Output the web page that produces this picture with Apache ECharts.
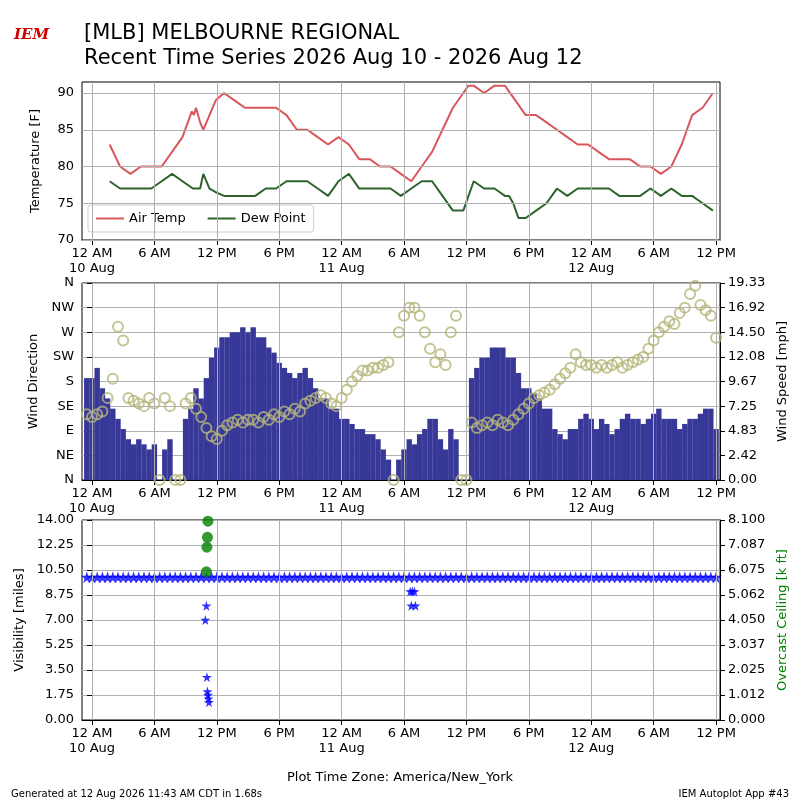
<!DOCTYPE html>
<html><head><meta charset="utf-8">
<script src="https://cdn.jsdelivr.net/npm/echarts@6/dist/echarts.min.js"></script>
<style>html,body{margin:0;padding:0;background:#fff}#c{width:800px;height:800px}</style>
</head><body><div id="c"></div>
<script>
// Temperature (hours since 10 Aug 00:00)
const airT = [1.7,2.7,3.7,4.7,5.7,6.7,7.7,8.7,9.6,9.8,10.0,10.4,10.7,11.3,11.9,12.7,13.7,14.7,15.7,16.7,17.7,18.7,19.7,20.7,21.7,22.7,23.7,24.7,25.7,26.7,27.7,28.7,29.7,30.7,31.7,32.7,33.7,34.7,35.7,36.2,36.7,37.7,38.7,39.7,40.7,41.7,42.7,43.7,44.7,45.7,46.7,47.7,48.7,49.7,50.7,51.7,52.7,53.7,54.7,55.7,56.7,57.7,58.7,59.7];
const airV = [83,80,79,80,80,80,82,84,87.5,87,88,86,85,87,89,90,89,88,88,88,88,87,85,85,84,83,84,83,81,81,80,80,79,78,80,82,85,88,90,91,91,90,91,91,89,87,87,86,85,84,83,83,82,81,81,81,80,80,79,80,83,87,88,90];
const dewT = [1.7,2.7,3.7,4.7,5.7,6.7,7.7,8.7,9.7,10.4,10.7,11.3,11.9,12.7,13.7,14.7,15.7,16.7,17.7,18.7,19.7,20.7,21.7,22.7,23.7,24.7,25.7,26.7,27.7,28.7,29.7,30.7,31.7,32.7,33.7,34.7,35.7,36.7,37.7,38.7,39.7,40.1,40.5,41.0,41.7,42.7,43.7,44.7,45.7,46.7,47.7,48.7,49.7,50.7,51.7,52.7,53.7,54.7,55.7,56.7,57.7,58.7,59.7];
const dewV = [78,77,77,77,77,78,79,78,77,77,79,77,76.5,76,76,76,76,77,77,78,78,78,77,76,78,79,77,77,77,77,76,77,78,78,76,74,74,78,77,77,76,76,75,73,73,74,75,77,76,77,77,77,77,76,76,76,77,76,77,76,76,75,74];
// Wind, half-hourly from -0.5 h
const windT = [-0.5,0,0.5,1,1.5,2,2.5,3,3.5,4,4.5,5,5.5,6,6.5,7,7.5,8,8.5,9,9.5,10,10.5,11,11.5,12,12.5,13,13.5,14,14.5,15,15.5,16,16.5,17,17.5,18,18.5,19,19.5,20,20.5,21,21.5,22,22.5,23,23.5,24,24.5,25,25.5,26,26.5,27,27.5,28,28.5,29,29.5,30,30.5,31,31.5,32,32.5,33,33.5,34,34.5,35,35.5,36,36.5,37,37.5,38,38.5,39,39.5,40,40.5,41,41.5,42,42.5,43,43.5,44,44.5,45,45.5,46,46.5,47,47.5,48,48.5,49,49.5,50,50.5,51,51.5,52,52.5,53,53.5,54,54.5,55,55.5,56,56.5,57,57.5,58,58.5,59,59.5,60];
const windSpd = [10,10,11,9,8,7,6,5,4,3.5,4,3.5,3,3.5,0,3,4,0,0,6,7,9,8,10,12,13,14,14,14.5,14.5,15,14.5,15,14,14,13,12.5,11.5,11,10.5,10,10.5,11,10,9,8,8,7,7,6,6,5.5,5,5,4.5,4.5,4,3,2,0,2,3,4,3.5,4.5,5,6,6,4,3,5,4,0,0,10,11,12,12,13,13,13,12,12,10.5,9,9,8.5,8,7,7,5,4.5,4,5,5,6,6.5,6,5,6,5.5,4.5,5,6,6.5,6,6,5.5,6,6.5,7,6,6,6,5,5.5,6,6,6.5,7,7,5];
const windDir = [120,115,120,125,150,185,280,255,150,145,140,135,150,140,0,150,135,0,0,140,150,130,115,95,80,75,90,100,105,110,105,110,110,105,115,110,120,115,125,120,130,125,140,145,150,155,150,140,135,150,165,180,190,200,200,205,205,210,215,0,270,300,315,315,300,270,240,215,230,210,270,300,0,0,105,95,100,105,100,110,105,100,110,120,130,140,150,155,160,165,175,185,195,205,230,215,210,210,205,210,205,210,215,205,210,215,220,225,240,255,270,280,290,285,305,315,340,355,320,310,300,260];
// Visibility and ceiling
const visT = windT;
const visV = windT.map(()=>10); // observed steady 10 mi
const visDipT = [10.9,11.0,11.05,11.1,11.15,11.2,11.25,30.6,30.7,30.8,31.0,31.1];
const visDipV = [7,8,3,2,1.75,1.5,1.25,9,8,9,9,8];
const ceilT = [11.0,11.05,11.1,11.15];
const ceilV = [6.0,7.0,7.4,8.05];

const xTicks=[0,6,12,18,24,30,36,42,48,54,60];
const spdLabels=['0.00','2.42','4.83','7.25','9.67','12.08','14.50','16.92','19.33'];
const dirLabels=['N','NE','E','SE','S','SW','W','NW','N'];
const ceilLabels=['0.000','1.012','2.025','3.037','4.050','5.062','6.075','7.087','8.100'];
const visLabels=['0.00','1.75','3.50','5.25','7.00','8.75','10.50','12.25','14.00'];
const tempTicks=[70,75,80,85,90];

function fmtX(v){const h=((v%24)+24)%24;const d=10+Math.floor(v/24);
 const s={0:'12 AM',6:'6 AM',12:'12 PM',18:'6 PM'}[h];return h===0?s+'\n'+d+' Aug':s;}
function xAx(g){return {type:'value',gridIndex:g,min:-0.96,max:60.38,
 axisLine:{lineStyle:{color:'#000'}},splitLine:{show:false},
 axisTick:{customValues:xTicks,length:5,lineStyle:{color:'#000'}},
 axisLabel:{customValues:xTicks,formatter:fmtX,color:'#000',fontSize:13,lineHeight:15,margin:6}};}
function vlines(){return {silent:true,symbol:'none',label:{show:false},lineStyle:{color:'#b0b0b0',type:'solid',width:1},
 data:xTicks.map(v=>({xAxis:v}))};}
const yBase={axisLine:{show:true,lineStyle:{color:'#000'}},axisTick:{show:true,length:5,lineStyle:{color:'#000'}},
 splitLine:{show:true,lineStyle:{color:'#b0b0b0'}},axisLabel:{color:'#000',fontSize:13},
 nameLocation:'middle',nameTextStyle:{fontSize:13,color:'#000'}};
const pair=(a,b)=>a.map((t,i)=>[t,b[i]]);
const STAR='path://M50,0 L61,35 L98,35 L68,57 L79,91 L50,70 L21,91 L32,57 L2,35 L39,35Z';

const chart=echarts.init(document.getElementById('c'));
chart.setOption({
 animation:false,
 textStyle:{fontFamily:'DejaVu Sans'},
 title:[{text:'[MLB] MELBOURNE REGIONAL\nRecent Time Series 2026 Aug 10 - 2026 Aug 12',left:79,top:16,
   textStyle:{fontSize:21,fontWeight:'normal',color:'#000',lineHeight:25}},
  {text:'Plot Time Zone: America/New_York',left:'center',top:766,textStyle:{fontSize:13,fontWeight:'normal',color:'#000'}},
  {text:'Generated at 12 Aug 2026 11:43 AM CDT in 1.68s',left:6,top:784,textStyle:{fontSize:10,fontWeight:'normal',color:'#000'}},
  {text:'IEM Autoplot App #43',right:6,top:784,textStyle:{fontSize:10,fontWeight:'normal',color:'#000'}}],
 graphic:[{type:'text',left:14,top:28,style:{text:'IEM',fill:'#cc0000',font:'italic bold 15px DejaVu Serif'}}],
 grid:[{left:82,right:80,top:82,height:158,show:true,borderColor:'#000',borderWidth:1},
  {left:82,right:80,top:283,height:197,show:true,borderColor:'#000',borderWidth:1},
  {left:82,right:80,top:520,height:200,show:true,borderColor:'#000',borderWidth:1}],
 legend:{left:88,top:205,data:['Air Temp','Dew Point'],icon:'rect',itemWidth:28,itemHeight:2,itemGap:22,
  backgroundColor:'#fff',borderColor:'#ccc',borderWidth:1,borderRadius:3,padding:[7,8],textStyle:{fontSize:13,color:'#000'}},
 xAxis:[xAx(0),xAx(1),xAx(2)],
 yAxis:[
  Object.assign({},yBase,{gridIndex:0,min:70,max:91.5,name:'Temperature [F]',nameGap:40,
    axisTick:{show:true,length:5,customValues:tempTicks,lineStyle:{color:'#000'}},
    axisLabel:{color:'#000',fontSize:13,customValues:tempTicks},
    splitLine:{show:false}}),
  Object.assign({},yBase,{gridIndex:1,min:0,max:360,interval:45,name:'Wind Direction',nameGap:42,
    axisLabel:{color:'#000',fontSize:13,formatter:(v)=>dirLabels[Math.round(v/45)]}}),
  Object.assign({},yBase,{gridIndex:1,min:0,max:19.33,interval:19.33/8,position:'right',name:'Wind Speed [mph]',nameGap:48,
    splitLine:{show:false},axisLabel:{color:'#000',fontSize:13,formatter:(v)=>spdLabels[Math.round(v/(19.33/8))]}}),
  Object.assign({},yBase,{gridIndex:2,min:0,max:14,interval:1.75,name:'Visibility [miles]',nameGap:46,
    axisLabel:{color:'#000',fontSize:13,formatter:(v)=>visLabels[Math.round(v/1.75)]}}),
  Object.assign({},yBase,{gridIndex:2,min:0,max:8.1,interval:1.0125,position:'right',name:'Overcast Ceiling [k ft]',nameGap:50,
    splitLine:{show:false},nameTextStyle:{fontSize:13,color:'#008000'},
    axisLabel:{color:'#000',fontSize:13,formatter:(v)=>ceilLabels[Math.round(v/1.0125)]}})
 ],
 series:[
  {name:'Air Temp',type:'line',xAxisIndex:0,yAxisIndex:0,data:pair(airT,airV),symbol:'none',
   lineStyle:{color:'#d9575c',width:2},itemStyle:{color:'#d9575c'},z:3,
   markLine:{silent:true,symbol:'none',label:{show:false},lineStyle:{color:'#b0b0b0',type:'solid',width:1},
    data:xTicks.map(v=>({xAxis:v})).concat(tempTicks.map(v=>({yAxis:v})))}},
  {name:'Dew Point',type:'line',xAxisIndex:0,yAxisIndex:0,data:pair(dewT,dewV),symbol:'none',
   lineStyle:{color:'#2e632e',width:2},itemStyle:{color:'#2e632e'},z:3},
  {type:'bar',xAxisIndex:1,yAxisIndex:2,data:pair(windT,windSpd),barWidth:5.4,
   itemStyle:{color:'#383898'},markLine:vlines(),z:2},
  {type:'scatter',xAxisIndex:1,yAxisIndex:1,data:pair(windT,windDir),symbol:'circle',symbolSize:10,
   itemStyle:{color:'rgba(0,0,0,0)',borderColor:'#b5b57a',borderWidth:2},z:4},
  {type:'scatter',xAxisIndex:2,yAxisIndex:3,data:pair(visT,visV),symbol:STAR,symbolSize:12,
   itemStyle:{color:'#0000ff'},markLine:vlines(),z:3},
  {type:'scatter',xAxisIndex:2,yAxisIndex:3,data:pair(visDipT,visDipV),symbol:STAR,symbolSize:10,
   itemStyle:{color:'#0000ff'},z:3},
  {type:'scatter',xAxisIndex:2,yAxisIndex:4,data:pair(ceilT,ceilV),symbol:'circle',symbolSize:11,
   itemStyle:{color:'#008000'},z:4}
 ]
});
</script></body></html>
